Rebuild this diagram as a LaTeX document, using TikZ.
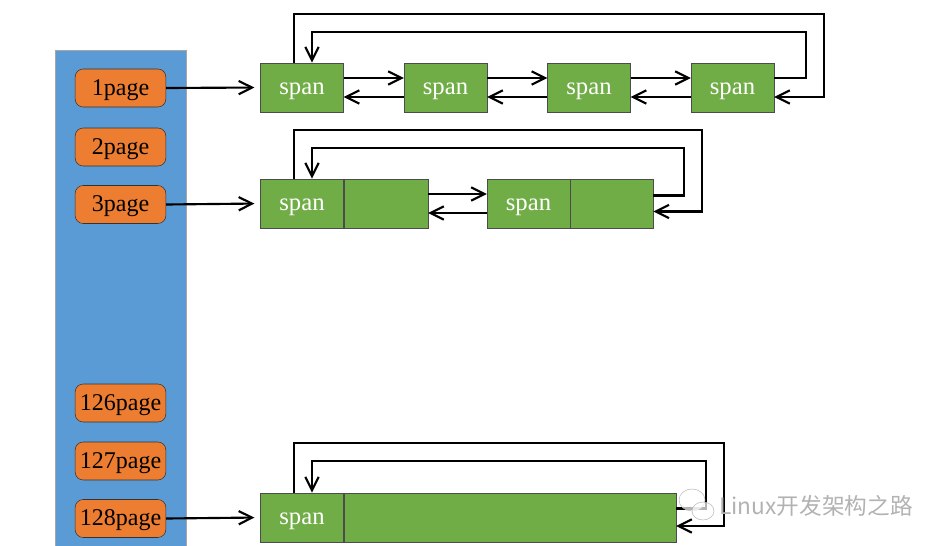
\documentclass[tikz,border=0pt]{standalone}
\usepackage{fontspec}
\setmainfont{Liberation Serif}
\newfontfamily\cjk{Noto Sans CJK SC}
\usetikzlibrary{positioning,calc,arrows.meta}
\definecolor{spangreen}{HTML}{70AD47}
\definecolor{pageorange}{HTML}{ED7D31}
\definecolor{poolblue}{HTML}{5B9BD5}
\tikzset{
  pool/.style={draw=gray!70, fill=poolblue, minimum width=98pt, minimum height=372pt, inner sep=0pt},
  pagebox/.style={draw=black!80, fill=pageorange, rounded corners=6pt, minimum width=68pt, minimum height=28.5pt, inner sep=0pt, text height=14pt, text depth=3pt, font=\fontsize{18}{21}\selectfont},
  spanbox/.style={draw=black!70, fill=spangreen, minimum width=62pt, minimum height=37pt, inner sep=0pt, text=white, text height=14pt, text depth=3pt, font=\fontsize{18.5}{21}\selectfont},
  cellbox/.style={draw=black!70, fill=spangreen, minimum height=37pt, inner sep=0pt},
  link/.style={line width=1.6pt, -{Straight Barb[length=10pt,width=10pt,line width=1.6pt]}},
}
\begin{document}
\begin{tikzpicture}[x=0.75pt,y=0.75pt,yscale=-1]
\useasboundingbox (0,0) rectangle (946,546);
\node (pool) [pool] at (120.5,298) {};
% page list
\node (p1) [pagebox] at (120.5,88) {1page};
\node (p2) [pagebox] at (120.5,147) {2page};
\node (p3) [pagebox] at (120.5,204.5) {3page};
\node (p126) [pagebox] at (120.5,403) {126page};
\node (p127) [pagebox] at (120.5,461) {127page};
\node (p128) [pagebox] at (120.5,518.5) {128page};
% 1 page spans
\node (s11) [spanbox] at (302,87.5) {span};
\node (s12) [spanbox] at (445.5,87.5) {span};
\node (s13) [spanbox] at (589,87.5) {span};
\node (s14) [spanbox] at (732.5,87.5) {span};
% 3 page spans
\node (s21) [spanbox] at (302,203.5) {span};
\node (c21) [cellbox, minimum width=63pt, right=0pt of s21] {};
\node (s22) [spanbox] at (528.5,203.5) {span};
\node (c22) [cellbox, minimum width=62pt, right=0pt of s22] {};
% 128 page span
\node (s31) [spanbox] at (302,517.5) {span};
\node (c31) [cellbox, minimum width=249pt, right=0pt of s31] {};
\coordinate (o1) at (824,14);
\coordinate (i1) at (806,32);
\coordinate (o2) at (702,130);
\coordinate (i2) at (684,148);
\coordinate (o3) at (724,443);
\coordinate (i3) at (706,461);

\draw[link, shorten >=4.5pt] (p1.east) -- (s11.west);
\draw[link, shorten >=4.5pt] (p3.east) -- (s21.west);
\draw[link, shorten >=4.5pt] (p128.east) -- (s31.west);

\foreach \a/\b in {s11/s12, s12/s13, s13/s14, c21/s22} {
  \draw[link] ($(\a.east)+(0,-9.5)$) -- ($(\b.west)+(0,-9.5)$);
  \draw[link] ($(\b.west)+(0,9.5)$) -- ($(\a.east)+(0,9.5)$);
}

\draw[link] ($(s11.north)+(-8,0)$) |- (o1) |- ($(s14.east)+(0,9.5)$);
\draw[link] ($(s14.east)+(0,-9.5)$) -| (i1) -| ($(s11.north)+(10,0)$);
\draw[link] ($(s21.north)+(-8,0)$) |- (o2) |- ($(c22.east)+(0,8)$);
\draw[link] ($(c22.east)+(0,-8)$) -| (i2) -| ($(s21.north)+(10,0)$);
\draw[link] ($(s31.north)+(-8,0)$) |- (o3) |- ($(c31.east)+(0,8.5)$);
\draw[link] ($(c31.east)+(0,-9)$) -| (i3) -| ($(s31.north)+(10,0)$);

% watermark
\draw[gray!55, fill=white, fill opacity=0.7] (692,500) ellipse (13 and 11);
\draw[gray!55, fill=white, fill opacity=0.7] (703,511) ellipse (11 and 9);
\node (wm) [anchor=west, text=gray!60, inner sep=0pt, font=\cjk\fontsize{17}{20}\selectfont] at (719,506) {Linux开发架构之路};
\end{tikzpicture}
\end{document}
